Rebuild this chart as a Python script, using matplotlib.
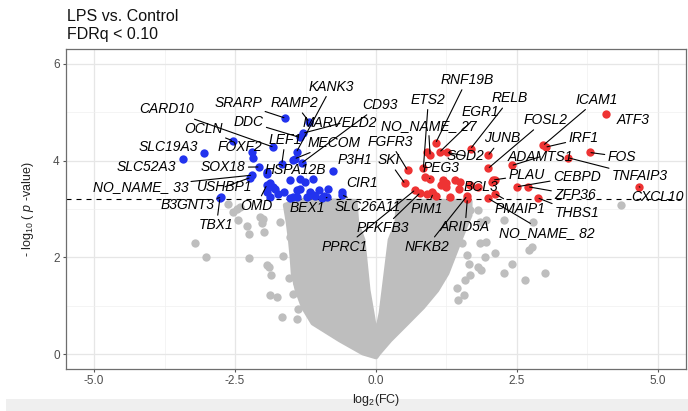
import matplotlib
matplotlib.use("Agg")
import matplotlib.pyplot as plt
from matplotlib.patches import Polygon, Rectangle

plt.rcParams['font.family'] = ['Liberation Sans', 'DejaVu Sans']
plt.rcParams['mathtext.fontset'] = 'custom'
plt.rcParams['mathtext.rm'] = 'Liberation Sans'
plt.rcParams['mathtext.it'] = 'Liberation Sans:italic'

# ---------------- data ----------------
fdr_cutoff_p = 3.2          # -log10(p) that corresponds to FDRq < 0.10

# significantly down-regulated, labelled
down_genes = ["SRARP", "RAMP2", "MARVELD2", "DDC", "KANK3", "CD93", "MECOM",
              "CARD10", "LEF1", "OCLN", "FOXF2", "SLC19A3", "SLC52A3", "SOX18",
              "HSPA12B", "P3H1", "NO_NAME_ 33", "USHBP1", "B3GNT3", "TBX1",
              "OMD", "BEX1", "SLC26A11", "CIR1"]
down_fc = [-1.61, -1.19, -1.29, -1.35, -1.41, -1.32, -1.44, -1.82, -1.67, -2.54,
           -2.20, -3.05, -3.43, -2.07, -1.93, -0.77, -2.20, -2.23, -2.75, -2.77,
           -1.94, -0.87, -0.60, -0.61]
down_p = [4.88, 4.81, 4.57, 4.48, 4.18, 3.95, 4.04, 4.28, 3.94, 4.41,
          4.18, 4.16, 4.03, 3.87, 3.77, 3.79, 3.70, 3.65, 3.24, 3.22,
          3.49, 3.24, 3.29, 3.35]

# significantly down-regulated, unlabelled
down_other_fc = [-1.52, -1.35, -1.11, -1.26, -1.88, -1.79, -1.94, -1.73, -1.41,
                 -1.17, -1.02, -0.85, -1.23, -1.08, -0.93, -1.52, -1.41, -0.96,
                 -1.88, -1.35, -1.82, -1.47, -1.47, -1.11, -1.63, -1.94, -2.19]
down_other_p = [3.60, 3.63, 3.63, 3.56, 3.53, 3.42, 3.35, 3.32, 3.39,
                3.35, 3.39, 3.42, 3.25, 3.26, 3.26, 3.22, 3.24, 3.22,
                3.25, 3.42, 3.46, 4.01, 3.25, 3.29, 3.35, 3.73, 4.06]

# significantly up-regulated, labelled
up_genes = ["RNF19B", "ETS2", "NO_NAME_ 27", "EGR1", "SOD2", "RELB", "JUNB",
            "FOSL2", "ICAM1", "IRF1", "ATF3", "FOS", "TNFAIP3", "ADAMTS1",
            "CEBPD", "ZFP36", "PLAU", "THBS1", "CXCL10", "PMAIP1",
            "NO_NAME_ 82", "BCL3", "ARID5A", "NFKB2", "PIM1", "PFKFB3",
            "PPRC1", "SKI", "FGFR3", "PEG3"]
up_fc = [1.06, 0.84, 0.96, 1.13, 1.26, 1.68, 1.99, 1.99, 2.97, 3.01, 4.08, 3.79,
         3.41, 2.41, 2.50, 2.70, 2.08, 2.87, 4.67, 2.11, 1.99, 1.81, 1.62, 1.61,
         1.01, 0.78, 0.69, 0.51, 0.56, 0.95]
up_p = [4.37, 3.84, 4.11, 4.18, 4.17, 4.25, 4.11, 3.84, 4.32, 4.28, 4.96, 4.17,
        4.06, 3.90, 3.46, 3.46, 3.60, 3.23, 3.46, 3.32, 3.22, 3.46, 3.20, 3.26,
        3.31, 3.33, 3.39, 3.53, 3.80, 3.63]

# significantly up-regulated, unlabelled
up_other_fc = [0.87, 1.19, 1.40, 1.16, 1.24, 1.48, 2.11, 2.05, 0.90, 1.31, 0.99,
               1.49, 1.25, 1.06, 0.90, 1.67]
up_other_p = [3.66, 3.60, 3.60, 3.49, 3.46, 3.41, 3.60, 3.56, 3.32, 3.24, 3.35,
              3.56, 3.53, 3.26, 4.18, 3.49]

# non-significant genes lying outside the dense core
ns_fc = [-3.21, -3.02, -2.62, -2.46, -2.45, -2.28, -2.25, -2.26, -2.00, -1.98,
         -1.94, -1.89, -1.87, -1.88, -1.75, -1.65, -1.54, -1.66, -1.40, -1.71,
         -1.49, -1.52, -1.38, -1.47, -1.41, -2.41, -2.06, -2.03, -2.53,
         2.27, 2.79, 2.11, 2.41, 2.27, 2.64, 3.00, 2.77, 2.72, 1.96, 1.84, 1.93,
         1.87, 1.81, 1.67, 1.58, 1.56, 1.46, 1.43, 1.65, 1.61, 1.52, 1.43, 1.84,
         1.96, 1.81, 1.67, 4.34]
ns_p = [2.30, 2.00, 3.11, 2.99, 2.77, 2.65, 2.48, 1.98, 2.80, 2.53,
        1.84, 1.79, 1.63, 1.22, 1.17, 2.02, 1.58, 0.76, 0.72, 2.73,
        2.84, 2.42, 0.94, 1.25, 1.46, 3.05, 2.84, 2.70, 2.94,
        2.77, 2.73, 2.08, 1.87, 1.67, 1.54, 1.68, 2.22, 2.16, 2.32, 2.29, 2.01,
        1.74, 1.80, 1.63, 1.53, 1.22, 1.12, 1.36, 1.87, 2.05, 2.29, 2.42, 2.73,
        2.77, 2.98, 2.98, 3.08]

# outline of the dense core of non-significant genes (log2FC, -log10 p)
core_fc = [0.00, -0.23, -0.64, -1.12, -1.29, -1.40, -1.47, -1.49, -1.52, -1.56,
           -1.61, -1.35, -0.37, -0.34, -0.23, -0.14, -0.07, 0.00, 0.09, 0.14,
           0.25, 0.37, 0.39, 1.67, 1.67, 1.61, 1.49, 1.37, 1.26, 1.08, 0.83,
           0.55, 0.25, 0.05]
core_p = [-0.06, 0.02, 0.29, 0.64, 0.97, 1.32, 1.67, 2.00, 2.36, 2.73,
          3.08, 3.18, 3.16, 2.71, 2.36, 1.32, 0.85, 0.35, 0.85, 1.32,
          2.36, 2.71, 3.16, 3.16, 2.87, 2.71, 2.36, 2.00, 1.67, 1.32, 0.97,
          0.64, 0.29, 0.02]

x_ticks = [-5.0, -2.5, 0.0, 2.5, 5.0]
x_tick_labels = ["-5.0", "-2.5", "0.0", "2.5", "5.0"]
y_ticks = [0, 2, 4, 6]
y_tick_labels = ["0", "2", "4", "6"]

# ---------------- label placement (log2FC, -log10 p of text centre) ----------------
label_pos = {
    "KANK3": (-0.79, 5.53), "SRARP": (-2.44, 5.20), "RAMP2": (-1.44, 5.19),
    "CD93": (0.07, 5.15), "CARD10": (-3.71, 5.06), "DDC": (-2.26, 4.80),
    "MARVELD2": (-0.64, 4.77), "MECOM": (-0.74, 4.37), "LEF1": (-1.61, 4.43),
    "OCLN": (-3.06, 4.65), "FOXF2": (-2.41, 4.28), "SLC19A3": (-3.68, 4.28),
    "SLC52A3": (-4.07, 3.86), "SOX18": (-2.71, 3.86), "HSPA12B": (-1.44, 3.81),
    "P3H1": (-0.37, 4.01), "NO_NAME_ 33": (-4.18, 3.46), "USHBP1": (-2.68, 3.46),
    "B3GNT3": (-3.35, 3.08), "TBX1": (-2.83, 2.67), "OMD": (-2.12, 3.07),
    "BEX1": (-1.21, 3.03), "SLC26A11": (-0.14, 3.04), "CIR1": (-0.25, 3.53),
    "PPRC1": (-0.55, 2.22), "PFKFB3": (0.13, 2.60), "PIM1": (0.90, 3.01),
    "NFKB2": (0.90, 2.22), "ARID5A": (1.58, 2.62), "BCL3": (1.87, 3.45),
    "PMAIP1": (2.55, 3.01), "NO_NAME_ 82": (3.03, 2.50), "THBS1": (3.56, 2.91),
    "ZFP36": (3.53, 3.29), "CEBPD": (3.56, 3.67), "PLAU": (2.67, 3.70),
    "TNFAIP3": (4.68, 3.68), "CXCL10": (4.99, 3.25), "FOS": (4.36, 4.08),
    "ATF3": (4.57, 4.84), "IRF1": (3.68, 4.46), "ICAM1": (3.92, 5.26),
    "ADAMTS1": (2.91, 4.08), "FOSL2": (3.00, 4.84), "RELB": (2.38, 5.29),
    "JUNB": (2.23, 4.46), "EGR1": (1.86, 5.00), "RNF19B": (1.61, 5.67),
    "ETS2": (0.93, 5.26), "NO_NAME_ 27": (0.93, 4.72), "FGFR3": (0.25, 4.39),
    "SKI": (0.22, 4.01), "PEG3": (1.15, 3.84), "SOD2": (1.58, 4.10),
}
no_segment = {"SLC19A3", "SLC52A3", "ATF3", "CIR1", "P3H1", "BCL3", "FOXF2",
              "HSPA12B"}

# ---------------- styling ----------------
GRAY = "#BEBEBE"
BLUE = "#2233EE"
RED = "#EE3333"
PT = 36

fig = plt.figure(figsize=(6.88, 4.11), dpi=100)
fig.add_artist(Rectangle((0.008, 0.0), 0.992, 12 / 411, transform=fig.transFigure,
                         facecolor="#EFEFEF", edgecolor="none", zorder=-5))
ax = fig.add_axes([66 / 688, 42.5 / 411, 620 / 688, 319 / 411])

ax.set_xlim(-5.5, 5.5)
ax.set_ylim(-0.3, 6.3)

# grid (theme_bw-like)
ax.set_xticks(x_ticks)
ax.set_xticklabels(x_tick_labels)
ax.set_yticks(y_ticks)
ax.set_yticklabels(y_tick_labels)
ax.set_xticks([-3.75, -1.25, 1.25, 3.75], minor=True)
ax.set_yticks([1, 3, 5], minor=True)
ax.grid(True, which="major", color="#E6E6E6", linewidth=0.9, zorder=0)
ax.grid(True, which="minor", color="#F0F0F0", linewidth=0.5, zorder=0)
ax.set_axisbelow(True)
ax.tick_params(which="minor", length=0)
ax.tick_params(which="major", length=2.5, width=0.8, color="#555555",
               labelcolor="#4D4D4D", labelsize=8.5, pad=2)
for s in ax.spines.values():
    s.set_color("#6E6E6E")
    s.set_linewidth(0.9)

# non-significant cloud
ax.add_patch(Polygon(list(zip(core_fc, core_p)), closed=True, facecolor=GRAY,
                     edgecolor=GRAY, linewidth=3.5, joinstyle="round", zorder=1))
ax.scatter(ns_fc, ns_p, s=PT, color=GRAY, linewidths=0, zorder=2)

# threshold
ax.axhline(fdr_cutoff_p, color="black", linewidth=0.8, linestyle=(0, (4.5, 4.5)),
           zorder=2.5)

# significant genes
ax.scatter(down_other_fc, down_other_p, s=PT, color=BLUE, linewidths=0, zorder=3)
ax.scatter(down_fc, down_p, s=PT, color=BLUE, linewidths=0, zorder=3)
ax.scatter(up_other_fc, up_other_p, s=PT, color=RED, linewidths=0, zorder=3)
ax.scatter(up_fc, up_p, s=PT, color=RED, linewidths=0, zorder=3)

# gene labels with connector segments
for genes, fcs, ps in ((down_genes, down_fc, down_p), (up_genes, up_fc, up_p)):
    for g, fx, py in zip(genes, fcs, ps):
        tx, ty = label_pos[g]
        if g in no_segment:
            ax.text(tx, ty, g, ha="center", va="center", fontsize=10,
                    fontstyle="italic", color="black", zorder=5)
        else:
            ax.annotate(g, xy=(fx, py), xytext=(tx, ty), ha="center",
                        va="center", fontsize=10, fontstyle="italic",
                        color="black", zorder=5, annotation_clip=False,
                        arrowprops=dict(arrowstyle="-", color="black", lw=0.8,
                                        shrinkA=0, shrinkB=1))

ax.set_xlabel(r"log$_2$(FC)", fontsize=9, color="#222222")
ax.xaxis.set_label_coords(0.5, -0.075)
ax.set_ylabel(r"- log$_{10}$ ( $p$ -value)", fontsize=9, color="#222222")
ax.yaxis.set_label_coords(-0.048, 0.5)

fig.text(67 / 688, 1 - 21 / 411, "LPS vs. Control", fontsize=11.5,
         color="#111111", ha="left", va="baseline")
fig.text(67 / 688, 1 - 39 / 411, "FDRq < 0.10", fontsize=11.5,
         color="#111111", ha="left", va="baseline")

fig.savefig("out.png", dpi=100)
